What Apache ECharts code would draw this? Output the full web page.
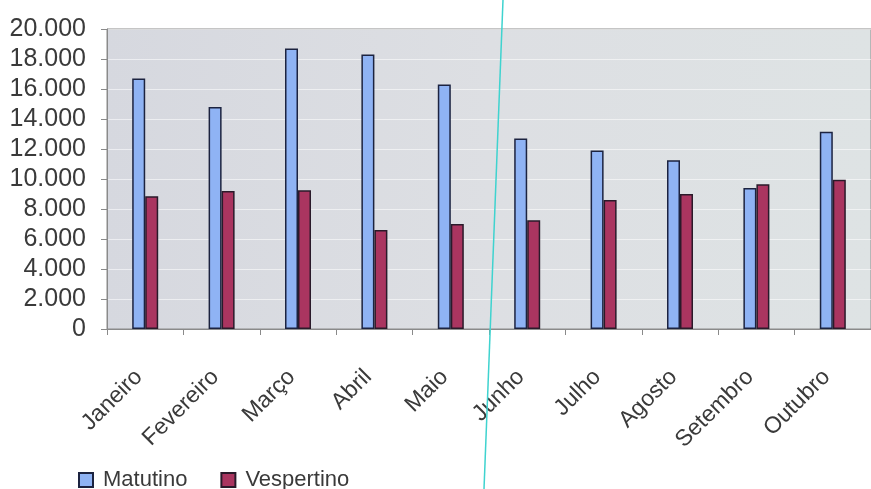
<!DOCTYPE html>
<html>
<head>
<meta charset="utf-8">
<script src="https://cdn.jsdelivr.net/npm/echarts@6/dist/echarts.min.js"></script>
<style>html,body{margin:0;padding:0;background:#fff;}#c{width:871px;height:489px;}</style>
</head>
<body>
<div id="c"></div>
<script>
var categories = ['Janeiro','Fevereiro','Março','Abril','Maio','Junho','Julho','Agosto','Setembro','Outubro'];
var matutino = [16700, 14800, 18700, 18300, 16300, 12700, 11900, 11250, 9400, 13150];
var vespertino = [8850, 9200, 9250, 6600, 7000, 7250, 8600, 9000, 9650, 9950];
var seriesNames = ['Matutino', 'Vespertino'];

function fmt(v){ return String(v).replace(/\B(?=(\d{3})+(?!\d))/g, '.'); }

var chart = echarts.init(document.getElementById('c'), null, {renderer:'canvas'});
var font = 'Liberation Sans, Arial, sans-serif';
chart.setOption({
  animation: false,
  backgroundColor: '#ffffff',
  grid: {
    left: 107, top: 29, right: -1, bottom: 160,
    show: true,
    backgroundColor: new echarts.graphic.LinearGradient(0,0,1,0,[
      {offset:0,color:'#d6d8df'},{offset:0.5,color:'#dddfe3'},{offset:1,color:'#dee3e4'}]),
    borderColor: '#8a8a8a', borderWidth: 1
  },
  legend: {
    left: 78, top: 469, itemWidth: 14, itemHeight: 14, itemGap: 33,
    icon: 'rect', padding: 0,
    textStyle: {fontFamily: font, fontSize: 22, color: '#3a3a3a', padding: [0,0,0,5]},
    data: seriesNames
  },
  xAxis: {
    type: 'category', data: categories, boundaryGap: true,
    axisLine: {lineStyle: {color: '#8a8a8a', width: 1}},
    axisTick: {show: true, length: 6, lineStyle: {color: '#8a8a8a'}},
    axisLabel: {rotate: 45, fontFamily: font, fontSize: 23, color: '#3a3a3a', margin: 38,
                padding: [0, 9, 0, 0], interval: 0}
  },
  yAxis: {
    type: 'value', min: 0, max: 20000, interval: 2000,
    axisLine: {show: true, lineStyle: {color: '#8a8a8a'}},
    axisTick: {show: true, length: 6, lineStyle: {color: '#8a8a8a'}},
    splitLine: {show: true, lineStyle: {color: 'rgba(255,255,255,0.55)', width: 1}},
    axisLabel: {fontFamily: font, fontSize: 25, color: '#3a3a3a', margin: 21, formatter: fmt}
  },
  series: [
    {name: seriesNames[0], type: 'bar', data: matutino, barWidth: 13, barGap: '0%',
     itemStyle: {color: '#8fb3f4', borderColor: '#1c2340', borderWidth: 1.5}},
    {name: seriesNames[1], type: 'bar', data: vespertino, barWidth: 13, barGap: '0%',
     itemStyle: {color: '#aa3560', borderColor: '#2a1a2a', borderWidth: 1.5}}
  ],
  graphic: [
    {type: 'line', shape: {x1: 503, y1: 0, x2: 484, y2: 489},
     style: {stroke: '#3fd3cf', lineWidth: 1.5}, z: 100}
  ]
});
</script>
</body>
</html>
